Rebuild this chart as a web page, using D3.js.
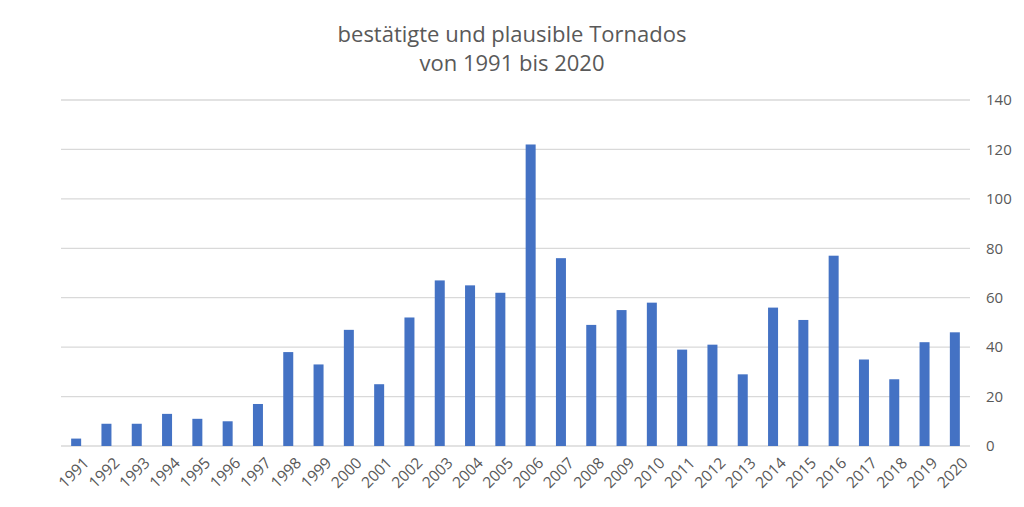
<!DOCTYPE html>
<html>
<head>
<meta charset="utf-8">
<script src="https://cdn.jsdelivr.net/npm/d3@7"></script>
<style>
  html,body{margin:0;padding:0;background:#fff;}
  text{font-family:"Open Sans","Noto Sans",sans-serif;fill:#595959;}
</style>
</head>
<body>
<svg id="chart"></svg>
<script>
const years = ['1991','1992','1993','1994','1995','1996','1997','1998','1999','2000',
  '2001','2002','2003','2004','2005','2006','2007','2008','2009','2010',
  '2011','2012','2013','2014','2015','2016','2017','2018','2019','2020'];
const tornados = [3,9,9,13,11,10,17,38,33,47,25,52,67,65,62,122,76,49,55,58,39,41,29,56,51,77,35,27,42,46];
const yTicks = [0,20,40,60,80,100,120,140];
const titleLines = ['bestätigte und plausible Tornados','von 1991 bis 2020'];

const width = 1024, height = 507;
const margin = {left:61, right:54, top:100, bottom:61};
const svg = d3.select('#chart').attr('width',width).attr('height',height);

const x = d3.scaleBand().domain(years).range([margin.left, width-margin.right]).paddingInner(0.67).paddingOuter(0.335);
const y = d3.scaleLinear().domain([0,140]).range([height-margin.bottom, margin.top]);

// gridlines
svg.append('g').selectAll('line').data(yTicks).enter().append('line')
  .attr('x1',margin.left).attr('x2',width-margin.right)
  .attr('y1',d=>y(d)).attr('y2',d=>y(d))
  .style('stroke','#d9d9d9').style('stroke-width',1.3);

// bars
svg.append('g').selectAll('rect').data(tornados).enter().append('rect')
  .attr('x',(d,i)=>x(years[i]))
  .attr('width',x.bandwidth())
  .attr('y',d=>y(d))
  .attr('height',d=>y(0)-y(d))
  .attr('fill','#4472c4');

// right axis
const yAxis = svg.append('g').attr('transform',`translate(${width-margin.right},0)`)
  .call(d3.axisRight(y).tickValues(yTicks).tickSize(0).tickPadding(16));
yAxis.select('.domain').remove();
yAxis.selectAll('text').style('font-size','15px').style('fill','#595959')
  .style('font-family','"Open Sans","Noto Sans",sans-serif');

// bottom axis
const xAxis = svg.append('g').attr('transform',`translate(0,${y(0)})`)
  .call(d3.axisBottom(x).tickSize(0));
xAxis.select('.domain').remove();
xAxis.selectAll('text')
  .style('font-size','15.5px').style('fill','#595959')
  .style('font-family','"Open Sans","Noto Sans",sans-serif')
  .attr('text-anchor','end')
  .attr('dy','0.35em')
  .attr('transform','translate(8,12) rotate(-45)');

// title
svg.append('g').selectAll('text').data(titleLines).enter().append('text')
  .attr('x',512).attr('y',(d,i)=>42+i*29)
  .attr('text-anchor','middle')
  .style('font-size','22px')
  .text(d=>d);
</script>
</body>
</html>
